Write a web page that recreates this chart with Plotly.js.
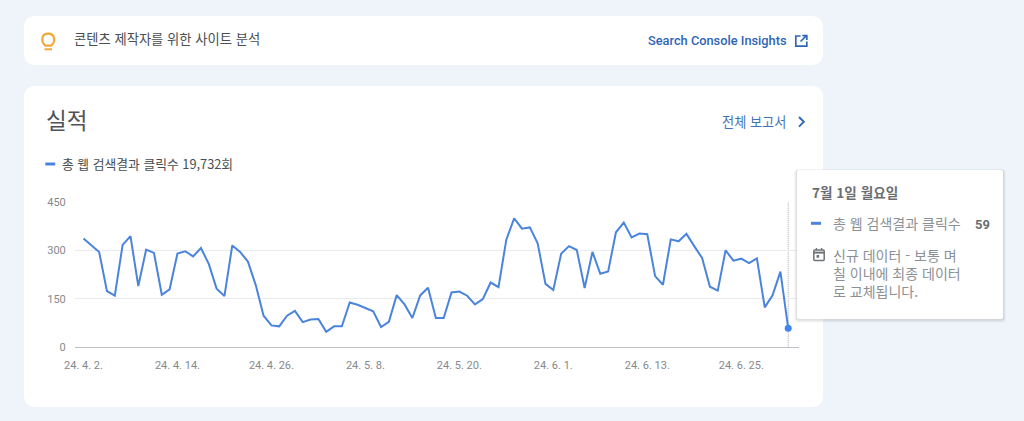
<!DOCTYPE html>
<html lang="ko">
<head>
<meta charset="utf-8">
<script src="https://cdn.plot.ly/plotly-3.0.1.min.js"></script>
<style>html,body{margin:0;padding:0;background:#eff3fa;overflow:hidden}#chart{width:1024px;height:421px}</style>
</head>
<body>
<div id="chart"></div>
<script>
const dates = [
"2024-04-02","2024-04-03","2024-04-04","2024-04-05","2024-04-06","2024-04-07","2024-04-08","2024-04-09","2024-04-10","2024-04-11","2024-04-12","2024-04-13","2024-04-14","2024-04-15","2024-04-16","2024-04-17","2024-04-18","2024-04-19","2024-04-20","2024-04-21","2024-04-22","2024-04-23","2024-04-24","2024-04-25","2024-04-26","2024-04-27","2024-04-28","2024-04-29","2024-04-30",
"2024-05-01","2024-05-02","2024-05-03","2024-05-04","2024-05-05","2024-05-06","2024-05-07","2024-05-08","2024-05-09","2024-05-10","2024-05-11","2024-05-12","2024-05-13","2024-05-14","2024-05-15","2024-05-16","2024-05-17","2024-05-18","2024-05-19","2024-05-20","2024-05-21","2024-05-22","2024-05-23","2024-05-24","2024-05-25","2024-05-26","2024-05-27","2024-05-28","2024-05-29","2024-05-30","2024-05-31",
"2024-06-01","2024-06-02","2024-06-03","2024-06-04","2024-06-05","2024-06-06","2024-06-07","2024-06-08","2024-06-09","2024-06-10","2024-06-11","2024-06-12","2024-06-13","2024-06-14","2024-06-15","2024-06-16","2024-06-17","2024-06-18","2024-06-19","2024-06-20","2024-06-21","2024-06-22","2024-06-23","2024-06-24","2024-06-25","2024-06-26","2024-06-27","2024-06-28","2024-06-29","2024-06-30","2024-07-01"];
const clicks = [
338,317,296,174,160,318,345,190,303,293,163,180,291,298,282,308,259,182,159,316,296,266,193,98,68,65,98,113,78,
86,88,48,65,65,139,132,122,112,63,79,162,133,91,161,185,91,91,170,173,160,133,150,201,187,334,400,368,372,323,197,
178,290,314,302,184,296,228,235,357,387,341,353,351,221,194,335,329,352,314,277,188,176,301,269,275,261,276,124,161,235,59];
const xTickVals = ["2024-04-02","2024-04-14","2024-04-26","2024-05-08","2024-05-20","2024-06-01","2024-06-13","2024-06-25"];
const xTickText = ["24. 4. 2.","24. 4. 14.","24. 4. 26.","24. 5. 8.","24. 5. 20.","24. 6. 1.","24. 6. 13.","24. 6. 25."];
const yTickVals = [0,150,300,450];

const W = 1024, H = 421;
const FONT = 'Roboto, "Noto Sans CJK KR", sans-serif';
const KFONT = '"Noto Sans CJK KR", Roboto, sans-serif';
const px = x => x / W, py = y => 1 - y / H;
const pt = (x, y) => px(x).toFixed(5) + ',' + py(y).toFixed(5);

function roundRect(x0, y0, x1, y1, r) {
  return 'M' + pt(x0 + r, y0) + ' L' + pt(x1 - r, y0) + ' Q' + pt(x1, y0) + ' ' + pt(x1, y0 + r) +
    ' L' + pt(x1, y1 - r) + ' Q' + pt(x1, y1) + ' ' + pt(x1 - r, y1) +
    ' L' + pt(x0 + r, y1) + ' Q' + pt(x0, y1) + ' ' + pt(x0, y1 - r) +
    ' L' + pt(x0, y0 + r) + ' Q' + pt(x0, y0) + ' ' + pt(x0 + r, y0) + ' Z';
}
const pathShape = (d, o) => Object.assign({type:'path', xref:'paper', yref:'paper', path:d, layer:'above'}, o);
const polyline = pts => 'M' + pts.map(p => pt(p[0], p[1])).join(' L');
const line = (color, w) => ({color: color, width: w});

const shapes = [
  pathShape(roundRect(24,16,823,65,12), {fillcolor:'#ffffff', line:{width:0}, layer:'below'}),
  pathShape(roundRect(24,86,823,407,12), {fillcolor:'#ffffff', line:{width:0}, layer:'below'}),
  {type:'line', xref:'x', yref:'y', x0:dates[dates.length-1], x1:dates[dates.length-1], y0:0, y1:450,
   line:{color:'#a4a9ae', width:1, dash:'1px,1px'}, layer:'below'},
  // bulb icon
  pathShape('M' + pt(45.2,45.6) + ' C' + pt(40.5,41.5) + ' ' + pt(41.5,33.6) + ' ' + pt(48.2,33.6) +
    ' C' + pt(55,33.6) + ' ' + pt(56,41.5) + ' ' + pt(51.2,45.6) + ' Z', {line:line('#f2a93b',2.2), fillcolor:'rgba(0,0,0,0)'}),
  pathShape(polyline([[44.5,49.3],[52,49.3]]), {line:line('#f2a93b',2)}),
  // external link icon
  pathShape(polyline([[800.5,36],[795.8,36],[795.8,46.2],[806.8,46.2],[806.8,41.5]]), {line:line('#2f66b5',1.7)}),
  pathShape(polyline([[800.5,41.5],[806.5,35.7]]), {line:line('#2f66b5',1.7)}),
  pathShape(polyline([[802.3,35.7],[806.8,35.7],[806.8,40]]), {line:line('#2f66b5',1.7)}),
  // chevron
  pathShape(polyline([[799,117],[803.8,121.8],[799,126.6]]), {line:line('#2f66b5',1.9)}),
  // legend dash
  pathShape(polyline([[45.3,164],[55.2,164]]), {line:line('#4a84dc',3)}),
  // tooltip shadow + box
  pathShape(roundRect(794,169,1006,323,4), {fillcolor:'rgba(60,64,67,0.035)', line:{width:0}}),
  pathShape(roundRect(795,169.5,1005,321.5,3), {fillcolor:'rgba(60,64,67,0.05)', line:{width:0}}),
  pathShape(roundRect(796,170,1004,320.5,2), {fillcolor:'rgba(60,64,67,0.08)', line:{width:0}}),
  pathShape(roundRect(797,170,1003,319,2), {fillcolor:'#ffffff', line:{width:0}}),
  pathShape(polyline([[811,223.3],[821,223.3]]), {line:line('#4a84dc',3)}),
  // calendar icon
  pathShape(roundRect(813.8,250,824.2,260.5,1), {line:line('#6f7478',1.5), fillcolor:'rgba(0,0,0,0)'}),
  pathShape(polyline([[813.8,252.6],[824.2,252.6]]), {line:line('#6f7478',2)}),
  pathShape(polyline([[816.4,248],[816.4,250]]), {line:line('#6f7478',1.4)}),
  pathShape(polyline([[821.6,248],[821.6,250]]), {line:line('#6f7478',1.4)}),
  pathShape(roundRect(816.5,255,819.2,257.7,0.3), {fillcolor:'#6f7478', line:{width:0}})
];

const label = (text, x, y, size, color, opts) => Object.assign({
  text: text, xref:'paper', yref:'paper', x: px(x), y: py(y), xanchor:'left', yanchor:'middle',
  showarrow:false, borderpad:0, font:{family:KFONT, size:size, color:color}
}, opts || {});

const annotations = [
  label('콘텐츠 제작자를 위한 사이트 분석', 72.5, 39, 13.3, '#4a4e52'),
  label('Search Console Insights', 646.5, 41, 12.8, '#2f66b5', {font:{family:FONT, size:12.8, color:'#2f66b5', weight:500}}),
  label('실적', 44.5, 119, 22.5, '#4f5357'),
  label('전체 보고서', 720.5, 121, 13.2, '#3f74bd'),
  label('총 웹 검색결과 클릭수 19,732회', 60.5, 164, 12.8, '#4a4e52'),
  label('7월 1일 월요일', 810.5, 191.5, 13.6, '#6a6e72', {font:{family:KFONT, size:13.6, color:'#6a6e72', weight:700}}),
  label('총 웹 검색결과 클릭수', 831.5, 223, 14, '#8b9095'),
  label(String(clicks[clicks.length-1]), 974, 224, 13, '#6a6e72', {font:{family:FONT, size:13, color:'#6a6e72', weight:700}}),
  label('신규 데이터 - 보통 며<br>칠 이내에 최종 데이터<br>로 교체됩니다.', 831.5, 272.5, 14, '#8b9095', {align:'left'})
];

const traces = [
  {type:'scatter', mode:'lines', x:dates, y:clicks, line:{color:'#4a84dc', width:2}, hoverinfo:'skip', showlegend:false},
  {type:'scatter', mode:'markers', x:dates.slice(-1), y:clicks.slice(-1),
   marker:{color:'#3f86f2', size:7}, hoverinfo:'skip', showlegend:false, cliponaxis:false}
];

const layout = {
  width:W, height:H, margin:{l:0,r:0,t:0,b:0,pad:0},
  paper_bgcolor:'#eff3fa', plot_bgcolor:'rgba(0,0,0,0)',
  showlegend:false, hovermode:false,
  font:{family:FONT, color:'#80868b', size:11},
  xaxis:{type:'date', domain:[px(75), px(798.5)], range:['2024-03-31 22:00','2024-07-02 07:30'],
    tickmode:'array', tickvals:xTickVals, ticktext:xTickText,
    ticks:'outside', ticklen:7, tickwidth:1, tickcolor:'rgba(0,0,0,0)',
    showgrid:false, showline:true, linecolor:'#bdc1c6', linewidth:1, zeroline:false,
    tickfont:{family:FONT, size:11, color:'#85898d'}, anchor:'y'},
  yaxis:{domain:[py(347.3), py(202.3)], range:[0,450], tickmode:'array', tickvals:yTickVals,
    showgrid:true, gridcolor:'#e9ebee', gridwidth:1, zeroline:false, showline:false,
    ticks:'outside', ticklen:6, tickwidth:1, tickcolor:'rgba(0,0,0,0)',
    tickfont:{family:FONT, size:11, color:'#85898d'}, anchor:'x'},
  shapes:shapes, annotations:annotations
};

Plotly.newPlot('chart', traces, layout, {displayModeBar:false, staticPlot:true});
</script>
</body>
</html>
